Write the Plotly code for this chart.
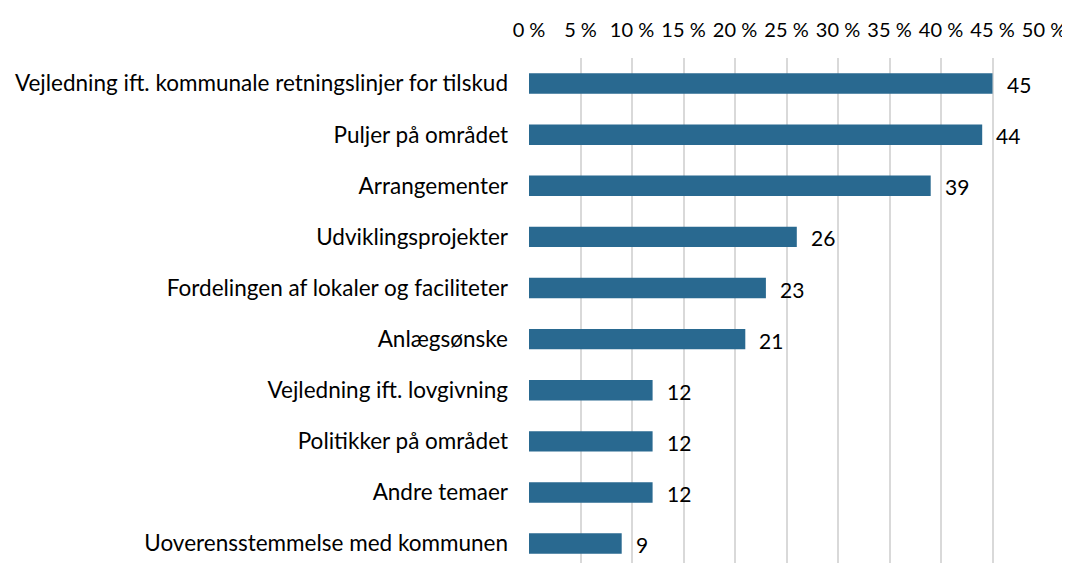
import plotly.graph_objects as go

categories = [
    "Vejledning ift. kommunale retningslinjer for tilskud",
    "Puljer på området",
    "Arrangementer",
    "Udviklingsprojekter",
    "Fordelingen af lokaler og faciliteter",
    "Anlægsønske",
    "Vejledning ift. lovgivning",
    "Politikker på området",
    "Andre temaer",
    "Uoverensstemmelse med kommunen",
]
values = [45, 44, 39, 26, 23, 21, 12, 12, 12, 9]
x_ticks = [0, 5, 10, 15, 20, 25, 30, 35, 40, 45, 50]

ypos = list(range(len(categories)))
FONT = "Lato"

fig = go.Figure(go.Bar(
    x=values,
    y=ypos,
    orientation="h",
    width=0.4,
    marker=dict(color="#296990", line=dict(width=0)),
))

for v, y in zip(values, ypos):
    fig.add_annotation(
        x=v, y=y, text=str(v), showarrow=False,
        xanchor="left", yanchor="middle", xshift=12, yshift=-1,
        font=dict(family=FONT, size=21, color="#000000"),
    )

fig.update_layout(
    width=1062, height=555,
    margin=dict(l=521, r=26, t=50, b=0),
    paper_bgcolor="white", plot_bgcolor="white",
    showlegend=False,
    font=dict(family=FONT, size=21, color="#000000"),
    xaxis=dict(
        side="top", range=[0, 50], tickvals=x_ticks,
        ticktext=[f"{v} %" for v in x_ticks],
        showgrid=True, gridcolor="#d9d9d9", gridwidth=1.5,
        zeroline=False, showline=False, ticks="",
        ticklabelstandoff=16, automargin=False, ticklabeloverflow="allow",
        tickfont=dict(family=FONT, size=20, color="#000000"),
    ),
    yaxis=dict(
        range=[9.38, -0.5], tickvals=ypos, ticktext=categories,
        showgrid=False, zeroline=False, showline=False, ticks="",
        ticklabelstandoff=20, automargin=False, ticklabeloverflow="allow",
        tickfont=dict(family=FONT, size=22.5, color="#000000"),
    ),
)

fig.write_html(
    "out.html",
    post_script="document.documentElement.style.overflow='hidden';document.body.style.overflow='hidden';",
)
